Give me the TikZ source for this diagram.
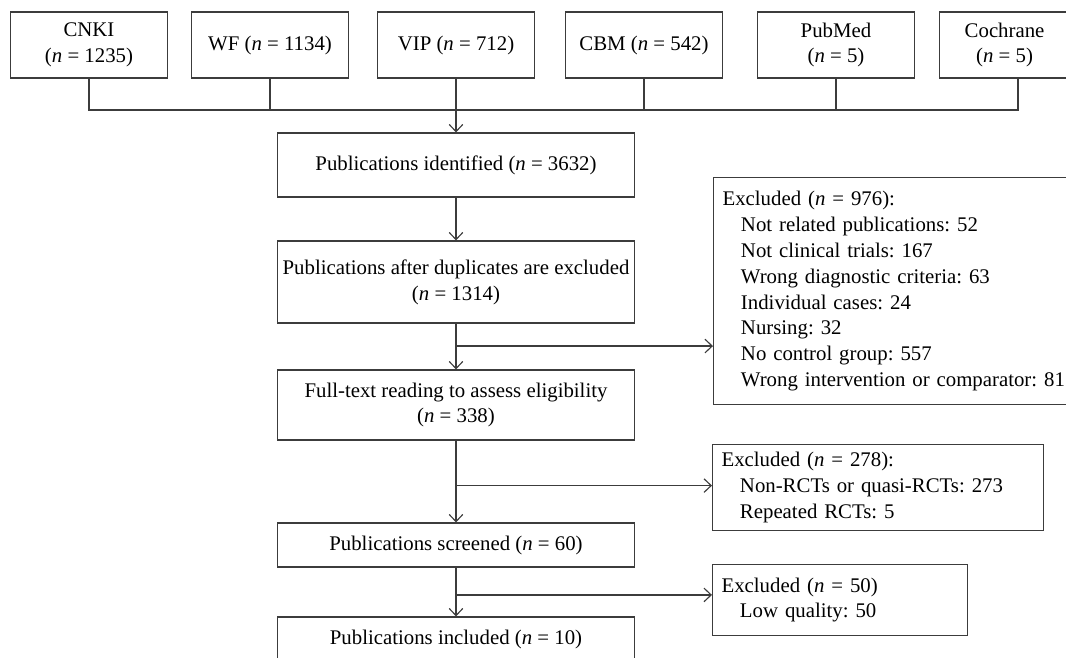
\documentclass[tikz,border=0pt]{standalone}
\usepackage{xcolor}
\usepackage{fontspec}
\setmainfont{Liberation Serif}
\usetikzlibrary{arrows.meta,calc}
\definecolor{linegray}{HTML}{3C3C3C}
\frenchspacing

\begin{document}
\begin{tikzpicture}[x=0.025cm,y=-0.025cm,line width=0.8pt,draw=linegray,
        >={Straight Barb[length=1.8mm,width=3.4mm]},
        box/.style={draw=linegray,line width=0.8pt,align=center,inner sep=1pt,
            font=\fontsize{14.8}{18.4}\selectfont},
        srcbox/.style={box,minimum width=3.925cm,minimum height=1.65cm},
        mainbox/.style={box,minimum width=8.925cm},
        exbox/.style={box,anchor=north west,align=left,inner xsep=0.225cm}]
        \useasboundingbox (0,0) rectangle (1066,658);
        % sources
        \node[srcbox] (cnki) at (89,45) {CNKI\\(\textit{n} = 1235)};
        \node[srcbox] (wf) at (270,45) {WF (\textit{n} = 1134)};
        \node[srcbox] (vip) at (456,45) {VIP (\textit{n} = 712)};
        \node[srcbox] (cbm) at (644,45) {CBM (\textit{n} = 542)};
        \node[srcbox] (pubmed) at (836,45) {PubMed\\(\textit{n} = 5)};
        \node[srcbox,minimum width=3.25cm,anchor=west] (cochrane) at (939,45) {Cochrane\\(\textit{n} = 5)};
        \coordinate (cochdrop) at ($(cochrane.south west)+(79,0)$);
        % main column
        \node[mainbox,minimum height=1.6cm] (ident) at (456,165) {Publications identified (\textit{n} = 3632)};
        \node[mainbox,minimum height=2.05cm] (dedup) at (456,282) {Publications after duplicates are excluded\\(\textit{n} = 1314)};
        \node[mainbox,minimum height=1.75cm] (fulltext) at (456,405) {Full-text reading to assess eligibility\\(\textit{n} = 338)};
        \node[mainbox,minimum height=1.1cm] (screened) at (456,545) {Publications screened (\textit{n} = 60)};
        \node[mainbox,minimum height=1.1cm] (included) at (456,639) {Publications included (\textit{n} = 10)};
        % excluded
        \node[exbox,text width=8.85cm,minimum height=5.675cm] (exdup) at (713,177) {Excluded (\textit{n} = 976):\\
            \hspace*{0.46cm}Not related publications: 52\\
            \hspace*{0.46cm}Not clinical trials: 167\\
            \hspace*{0.46cm}Wrong diagnostic criteria: 63\\
            \hspace*{0.46cm}Individual cases: 24\\
            \hspace*{0.46cm}Nursing: 32\\
            \hspace*{0.46cm}No control group: 557\\
            \hspace*{0.46cm}Wrong intervention or comparator: 81};
        \node[exbox,text width=7.825cm,minimum height=2.15cm] (exrct) at (712,444) {Excluded (\textit{n} = 278):\\
            \hspace*{0.46cm}Non-RCTs or quasi-RCTs: 273\\
            \hspace*{0.46cm}Repeated RCTs: 5};
        \node[exbox,text width=5.925cm,minimum height=1.775cm] (exqual) at (712,564) {Excluded (\textit{n} = 50)\\
            \hspace*{0.46cm}Low quality: 50};
        % connectors
        \coordinate (bus) at (0,110);
        \draw (cnki.south) -- (cnki.south |- bus) -- (cochdrop |- bus) -- (cochdrop);
        \foreach \src in {wf,vip,cbm,pubmed}
            \draw (\src.south) -- (\src.south |- bus);
        \draw[->] (vip.south |- bus) -- (ident.north);
        \draw[->] (ident) -- (dedup);
        \draw[->] (dedup) -- (fulltext);
        \draw[->] (fulltext) -- (screened);
        \draw[->] (screened) -- (included);
        \coordinate (br1) at ($(dedup.south)!0.49!(fulltext.north)$);
        \coordinate (br2) at ($(fulltext.south)!0.55!(screened.north)$);
        \coordinate (br3) at ($(screened.south)!0.56!(included.north)$);
        \draw[->] (br1) -- (br1 -| exdup.west);
        \draw[->] (br2) -- (br2 -| exrct.west);
        \draw[->] (br3) -- (br3 -| exqual.west);
\end{tikzpicture}
\end{document}
